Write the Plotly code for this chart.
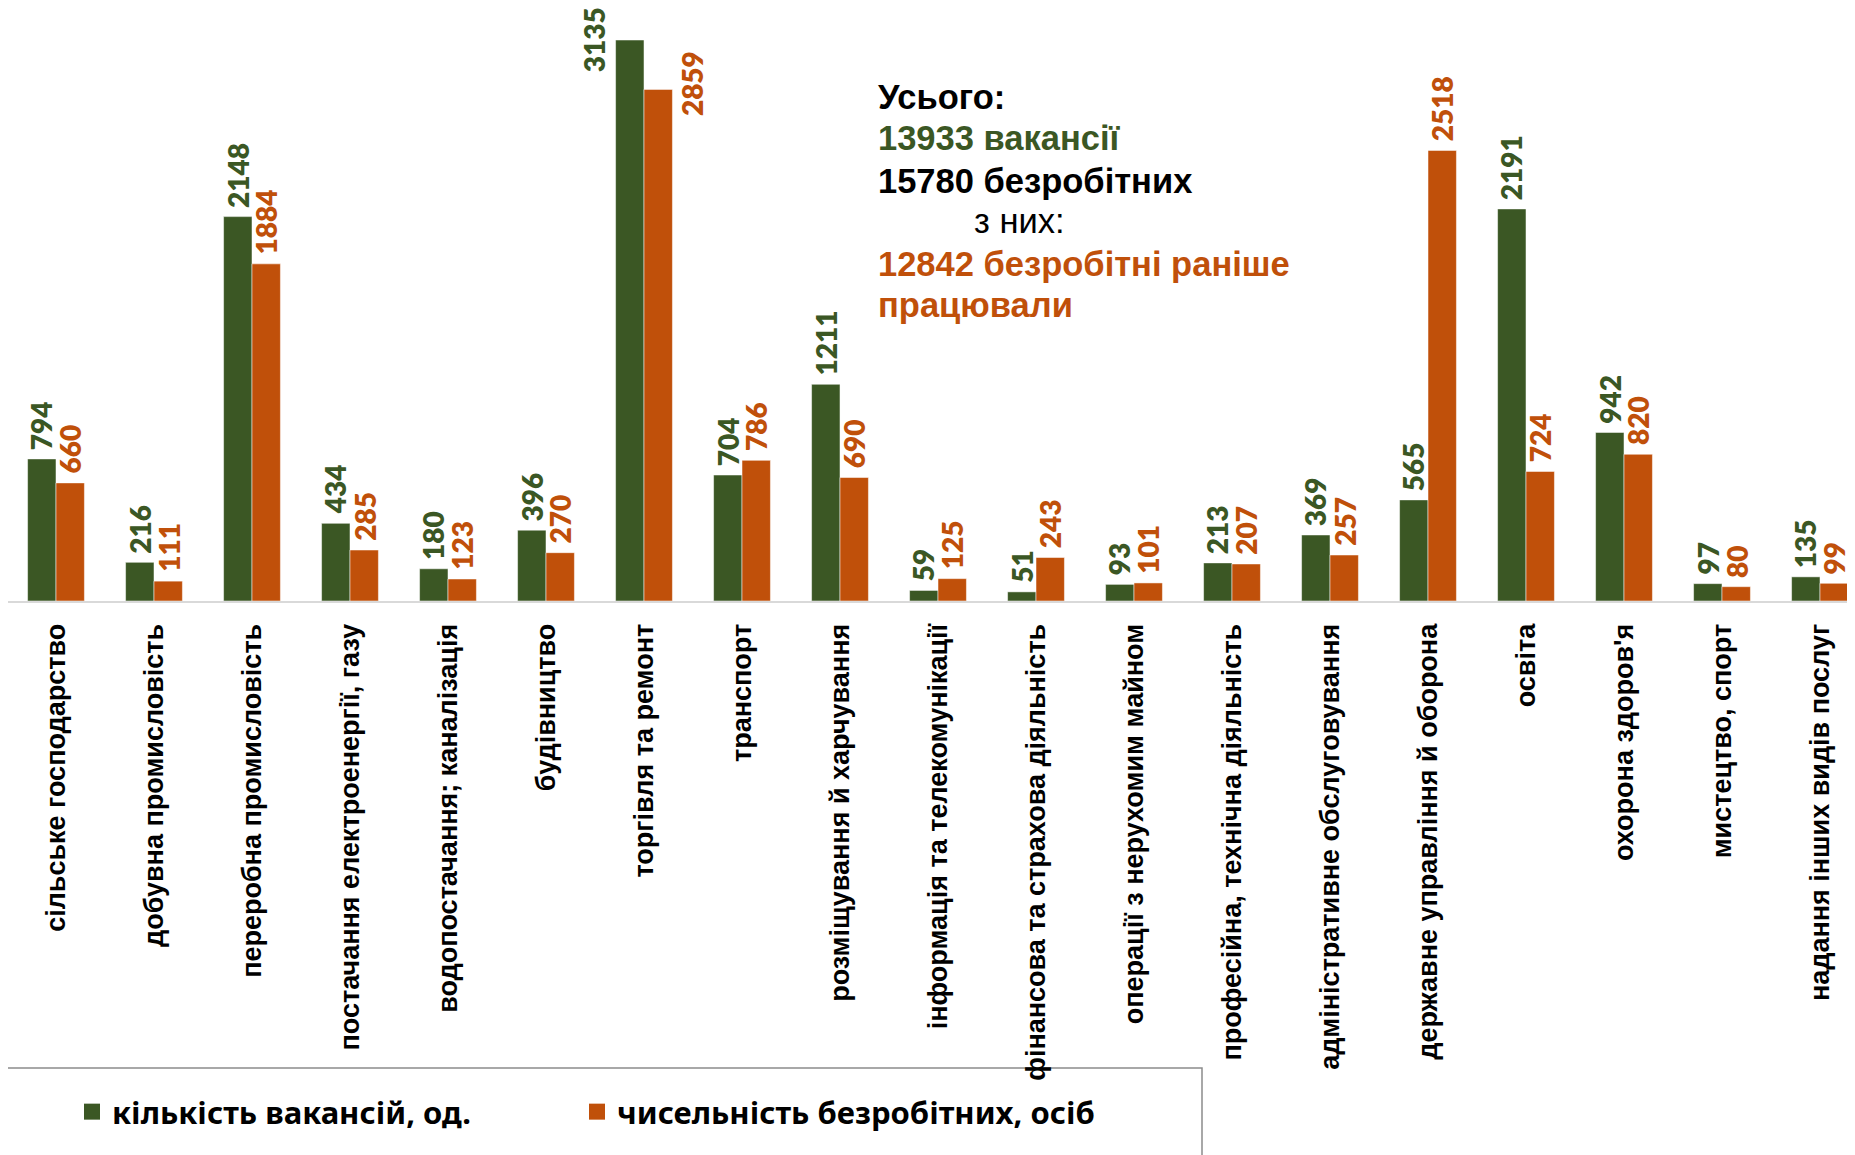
import plotly.graph_objects as go

# ---------------- data ----------------
categories = [
    "сільське господарство",
    "добувна промисловість",
    "переробна промисловість",
    "постачання електроенергії, газу",
    "водопостачання; каналізація",
    "будівництво",
    "торгівля та ремонт",
    "транспорт",
    "розміщування й харчування",
    "інформація та телекомунікації",
    "фінансова та страхова діяльність",
    "операції з нерухомим майном",
    "професійна, технічна діяльність",
    "адміністративне обслуговування",
    "державне управління й оборона",
    "освіта",
    "охорона здоров'я",
    "мистецтво, спорт",
    "надання інших видів послуг",
]
vacancies = [794, 216, 2148, 434, 180, 396, 3135, 704, 1211, 59, 51, 93, 213, 369, 565, 2191, 942, 97, 135]
unemployed = [660, 111, 1884, 285, 123, 270, 2859, 786, 690, 125, 243, 101, 207, 257, 2518, 724, 820, 80, 99]

series_names = ["кількість вакансій, од.", "чисельність безробітних, осіб"]

summary_lines = [
    ("Усього:", "black", True),
    ("13933 вакансії", "green", True),
    ("15780 безробітних", "black", True),
    ("з них:", "black", False),
    ("12842 безробітні раніше", "orange", True),
    ("працювали", "orange", True),
]

# ---------------- style ----------------
PAGE_OFF = 8                      # browser default body margin
W, H = 1855 - PAGE_OFF, 1155 - PAGE_OFF
L, R, T = 0, 0, 0
BASE_PAGE = 601                   # baseline y on the page
B = H - (BASE_PAGE - PAGE_OFF)
plot_w = W - L - R
plot_h = H - T - B
GREEN = "#3B5724"
ORANGE = "#C0500A"
colors = {"green": GREEN, "orange": ORANGE, "black": "black"}
BARGAP = 0.42
X_RANGE = [-0.4898, 18.357]
Y_RANGE = [0, 3313.8]

# special label offsets (px, relative to own bar) for labels that would not fit above the bar
label_offsets = {
    (0, 6): (-36, -34),
    (1, 6): (34, -29),
}
summary_x_px = 876
summary_centers_px = [97, 138, 181, 221, 264, 305]
summary_indent_px = {3: 972}
legend_x_px = [72, 577]


def px_x(px):
    return (px - PAGE_OFF - L) / plot_w


def px_y(py):
    return (plot_h - (py - PAGE_OFF - T)) / plot_h


fig = go.Figure()
fig.add_trace(go.Bar(x=categories, y=vacancies, name=series_names[0],
                     marker=dict(color=GREEN, line=dict(color="rgba(255,255,255,0.5)", width=1)),
                     showlegend=False))
fig.add_trace(go.Bar(x=categories, y=unemployed, name=series_names[1],
                     marker=dict(color=ORANGE, line=dict(color="rgba(255,255,255,0.5)", width=1)),
                     showlegend=False))
# legend entries (one legend each, so they can be placed independently)
for nm, col, lg in zip(series_names, [GREEN, ORANGE], ["legend", "legend2"]):
    fig.add_trace(go.Scatter(x=[None], y=[None], mode="markers", name=nm, legend=lg,
                             marker=dict(symbol="square", size=16, color=col)))

annotations = []
cat_px = plot_w / (X_RANGE[1] - X_RANGE[0])
half = cat_px * (1 - BARGAP) / 4
for si, (vals, col) in enumerate([(vacancies, GREEN), (unemployed, ORANGE)]):
    base_shift = -half if si == 0 else half
    for ci, (c, v) in enumerate(zip(categories, vals)):
        dx, dy = label_offsets.get((si, ci), (0, 7))
        annotations.append(dict(
            x=c, y=v, xref="x", yref="y", text=str(v), showarrow=False,
            textangle=-90, xanchor="center", yanchor="bottom",
            xshift=base_shift + dx, yshift=dy,
            font=dict(family="Lato, Carlito, 'Noto Sans', sans-serif", size=28, color=col, weight=800),
        ))

for i, (txt, col, bold) in enumerate(summary_lines):
    xp = summary_indent_px.get(i, summary_x_px)
    annotations.append(dict(
        x=px_x(xp), y=px_y(summary_centers_px[i]), xref="paper", yref="paper",
        text=txt, showarrow=False, xanchor="left", yanchor="middle",
        font=dict(family="'Liberation Sans', Arial, sans-serif", size=34.5,
                  color=colors[col], weight="bold" if bold else "normal"),
    ))

legend_font = dict(family="'Noto Sans', sans-serif", size=31, color="black", weight="bold")
legend_common = dict(orientation="h", xanchor="left", y=px_y(1112), yanchor="middle",
                     itemwidth=30, bgcolor="rgba(0,0,0,0)", font=legend_font)

fig.update_layout(
    width=W, height=H,
    margin=dict(l=L, r=R, t=T, b=B, autoexpand=False),
    paper_bgcolor="white", plot_bgcolor="white",
    barmode="group", bargap=BARGAP, bargroupgap=0,
    annotations=annotations,
    shapes=[dict(type="rect", xref="paper", yref="paper",
                 x0=px_x(-20), x1=px_x(1202), y0=px_y(1175), y1=px_y(1068),
                 line=dict(color="#8C8C8C", width=1.5), fillcolor="rgba(0,0,0,0)", layer="below")],
    legend=dict(x=px_x(legend_x_px[0]), **legend_common),
    legend2=dict(x=px_x(legend_x_px[1]), **legend_common),
    xaxis=dict(type="category", range=X_RANGE, tickangle=-90, showgrid=False,
               showline=True, linecolor="#D9D9D9", linewidth=2, ticks="",
               ticklabelstandoff=10, automargin=False,
               tickfont=dict(family="'Liberation Sans', Arial, sans-serif", size=27,
                             color="black", weight="bold")),
    yaxis=dict(range=Y_RANGE, visible=False, showgrid=False, zeroline=False),
)

fig.write_html("out.html")
